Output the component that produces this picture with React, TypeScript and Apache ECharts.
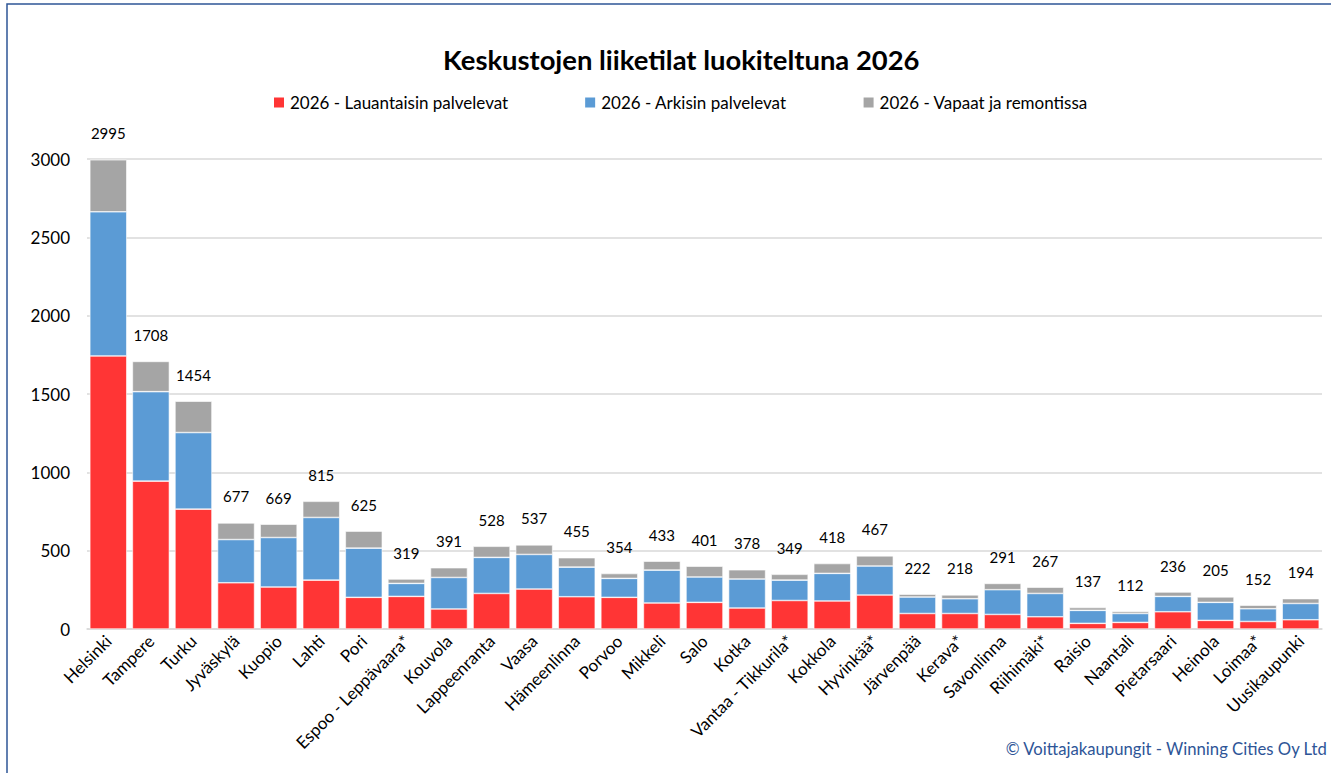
import React, { useEffect, useRef } from "react";
import * as echarts from "echarts";

const categories = [
  "Helsinki", "Tampere", "Turku", "Jyväskylä", "Kuopio", "Lahti", "Pori",
  "Espoo - Leppävaara*", "Kouvola", "Lappeenranta", "Vaasa", "Hämeenlinna",
  "Porvoo", "Mikkeli", "Salo", "Kotka", "Vantaa - Tikkurila*", "Kokkola",
  "Hyvinkää*", "Järvenpää", "Kerava*", "Savonlinna", "Riihimäki*", "Raisio",
  "Naantali", "Pietarsaari", "Heinola", "Loimaa*", "Uusikaupunki",
];

const saturday = [
  1743, 944, 765, 295, 268, 312, 202, 208, 128, 227, 255, 206, 202, 166, 170,
  134, 182, 179, 217, 99, 99, 93, 78, 36, 42, 110, 55, 48, 59,
];
const weekday = [
  920, 571, 489, 276, 316, 400, 314, 83, 201, 230, 221, 189, 121, 210, 162,
  185, 130, 176, 185, 105, 94, 158, 149, 83, 57, 98, 115, 81, 104,
];
const vacant = [
  332, 193, 200, 106, 85, 103, 109, 28, 62, 71, 61, 60, 31, 57, 69, 59, 37,
  63, 65, 18, 25, 40, 40, 18, 13, 28, 35, 23, 31,
];

const seriesNames = [
  "2026 - Lauantaisin palvelevat",
  "2026 - Arkisin palvelevat",
  "2026 - Vapaat ja remontissa",
];
const yTicks = { min: 0, max: 3000, interval: 500 };

const FONT = "Lato, 'Noto Sans', sans-serif";

export default function App() {
  const ref = useRef<HTMLDivElement>(null);
  useEffect(() => {
    if (!ref.current) return;
    const chart = echarts.init(ref.current, null, { renderer: "svg" });
    const totals = categories.map((_, i) => saturday[i] + weekday[i] + vacant[i]);
    const barBase = {
      type: "bar",
      stack: "total",
      barWidth: 37,
      itemStyle: { borderColor: "#ffffff", borderWidth: 0.6 },
    };
    chart.setOption({
      animation: false,
      textStyle: { fontFamily: FONT },
      title: {
        text: "Keskustojen liiketilat luokiteltuna 2026",
        left: 438,
        top: 41,
        textStyle: { fontSize: 27.4, fontWeight: "bold", color: "#000", fontFamily: FONT },
      },
      legend: {
        top: 89,
        left: 267,
        itemWidth: 12,
        itemHeight: 12,
        itemGap: 75,
        icon: "rect",
        textStyle: { fontSize: 17, color: "#000", fontFamily: FONT },
        data: seriesNames,
      },
      grid: { left: 87, right: 9, top: 159, bottom: 144, containLabel: false },
      xAxis: {
        type: "category",
        data: categories,
        axisLine: { lineStyle: { color: "#d9d9d9", width: 1.5 } },
        axisTick: { show: false },
        axisLabel: {
          rotate: 45,
          interval: 0,
          fontSize: 17,
          color: "#000",
          margin: 9,
          fontFamily: FONT,
        },
      },
      yAxis: {
        type: "value",
        min: yTicks.min,
        max: yTicks.max,
        interval: yTicks.interval,
        axisLine: { show: false },
        axisTick: { show: false },
        axisLabel: {
          fontSize: 17,
          color: "#000",
          margin: 17,
          fontFamily: FONT,
          formatter: (v: number) => String(v),
        },
        splitLine: { lineStyle: { color: "#d9d9d9", width: 1.5 } },
      },
      series: [
        { ...barBase, name: seriesNames[0], data: saturday, itemStyle: { ...barBase.itemStyle, color: "#FF3535" } },
        { ...barBase, name: seriesNames[1], data: weekday, itemStyle: { ...barBase.itemStyle, color: "#5B9BD5" } },
        {
          ...barBase,
          name: seriesNames[2],
          data: vacant,
          itemStyle: { ...barBase.itemStyle, color: "#A5A5A5" },
          label: {
            show: true,
            position: "top",
            distance: 19,
            fontSize: 15,
            color: "#000",
            fontFamily: FONT,
            formatter: (p: any) => String(totals[p.dataIndex]),
          },
        },
      ],
      graphic: [
        {
          type: "rect",
          shape: { x: 7, y: 4, width: 1340, height: 800 },
          style: { fill: "none", stroke: "#2E5597", lineWidth: 1.5 },
          silent: true,
        },
        {
          type: "text",
          right: 3,
          top: 740,
          style: {
            text: "© Voittajakaupungit - Winning Cities Oy Ltd",
            fontSize: 16.7,
            fill: "#2E5597",
            fontFamily: FONT,
          },
        },
      ],
    });
    return () => chart.dispose();
  }, []);
  return (
    <div
      ref={ref}
      style={{ position: "fixed", left: 0, top: 0, width: 1331, height: 773, background: "#fff" }}
    />
  );
}
